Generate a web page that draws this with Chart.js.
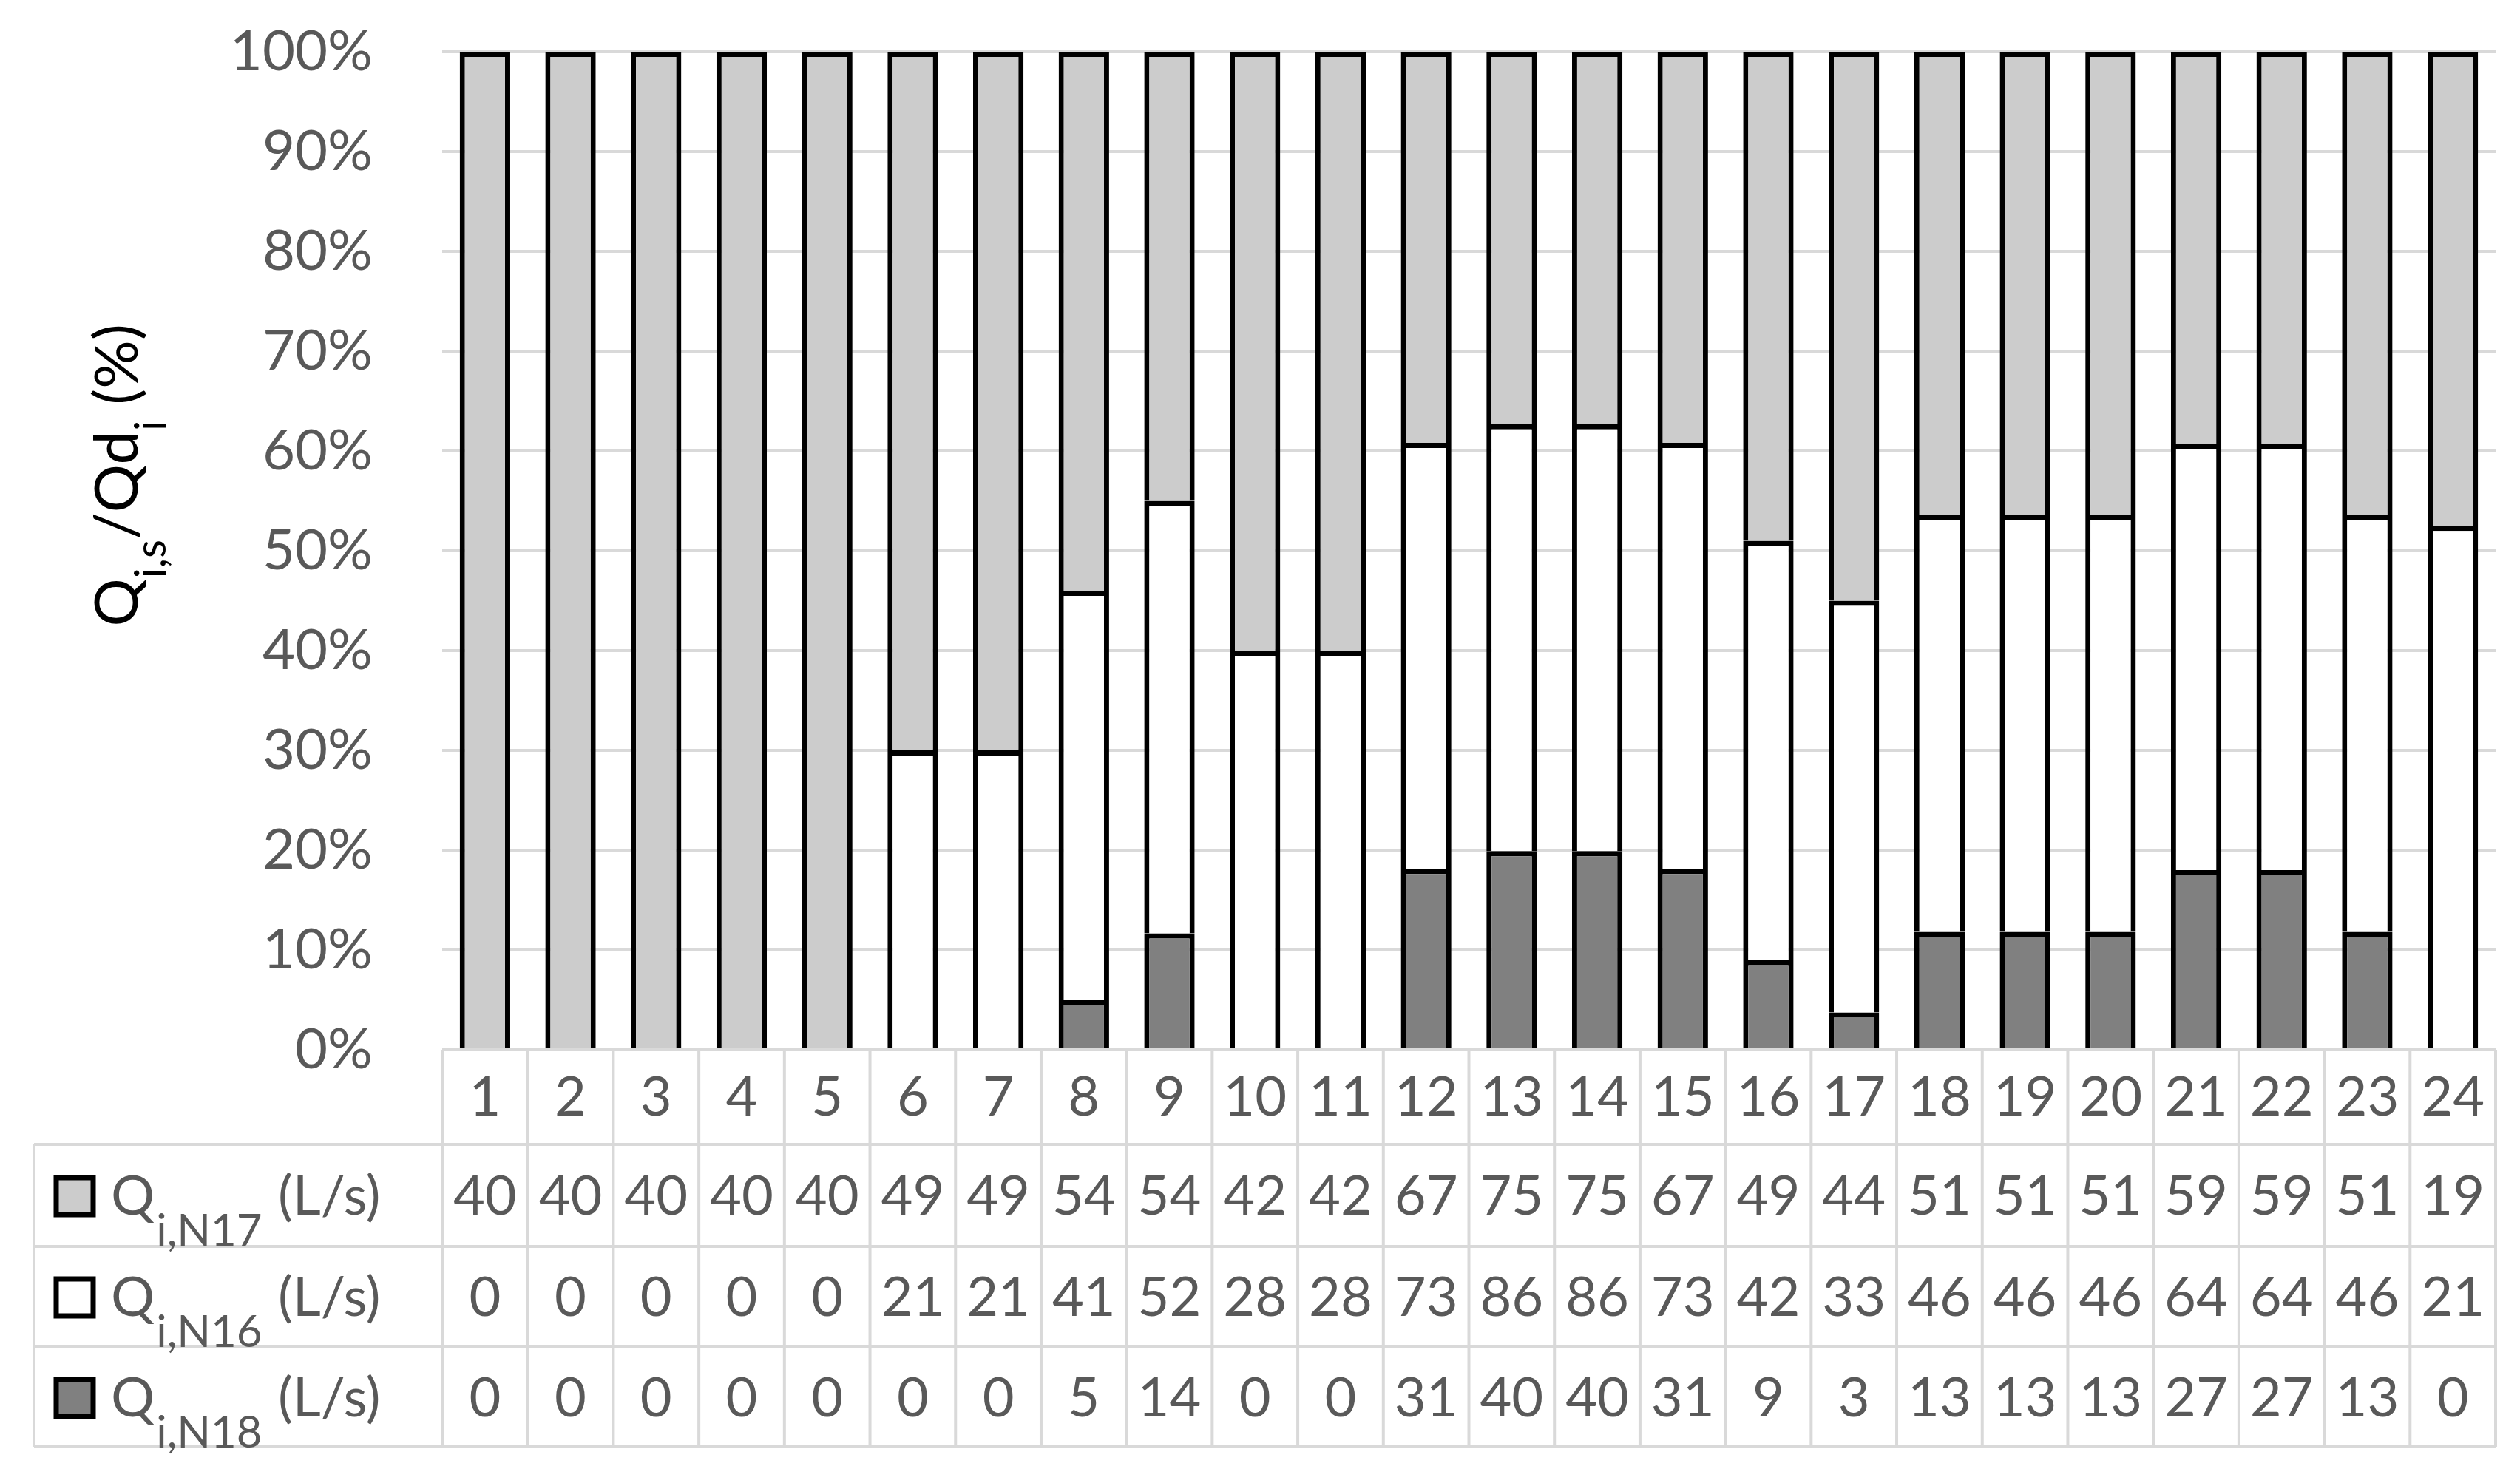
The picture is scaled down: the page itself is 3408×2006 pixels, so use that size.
<!DOCTYPE html>
<html>
<head>
<meta charset="utf-8">
<script src="https://cdn.jsdelivr.net/npm/chart.js@4.4.0/dist/chart.umd.min.js"></script>
<style>
  html, body { margin: 0; padding: 0; background: #fff; }
</style>
</head>
<body>
<canvas id="chart" width="3408" height="2006"></canvas>
<script>
// hours of the day (categories)
var hours = ['1','2','3','4','5','6','7','8','9','10','11','12','13','14','15','16','17','18','19','20','21','22','23','24'];

// flows per source node, L/s
var qN17 = [40,40,40,40,40,49,49,54,54,42,42,67,75,75,67,49,44,51,51,51,59,59,51,19];
var qN16 = [0,0,0,0,0,21,21,41,52,28,28,73,86,86,73,42,33,46,46,46,64,64,46,21];
var qN18 = [0,0,0,0,0,0,0,5,14,0,0,31,40,40,31,9,3,13,13,13,27,27,13,0];

var yTicks = [0,10,20,30,40,50,60,70,80,90,100];

var FONT = 'Lato';
var GREY_TXT = '#595959';
var LINE = '#d9d9d9';

// share of each source in the hourly demand (%)
function share(part) {
  return part.map(function(v, i) {
    var total = qN17[i] + qN16[i] + qN18[i];
    return total ? v / total * 100 : 0;
  });
}

var tableRows = [
  { node: 'N17', values: qN17, color: '#cccccc' },
  { node: 'N16', values: qN16, color: '#ffffff' },
  { node: 'N18', values: qN18, color: '#808080' }
];

var rowEdges = [1548, 1686, 1822, 1957];

var tablePlugin = {
  id: 'dataTable',
  afterDraw: function(chart) {
    var ctx = chart.ctx;
    var x = chart.scales.x;
    var top = chart.chartArea.bottom;
    var left = x.left, right = x.right;
    var colW = (right - left) / hours.length;
    var tableLeft = 46;
    var bottom = rowEdges[rowEdges.length - 1];

    ctx.save();
    ctx.strokeStyle = LINE;
    ctx.lineWidth = 4;
    ctx.beginPath();
    // horizontal lines
    ctx.moveTo(left, top); ctx.lineTo(right, top);
    rowEdges.forEach(function(y) {
      ctx.moveTo(tableLeft, y); ctx.lineTo(right, y);
    });
    // vertical lines
    for (var k = 0; k <= hours.length; k++) {
      var xx = left + k * colW;
      ctx.moveTo(xx, top); ctx.lineTo(xx, bottom);
    }
    ctx.moveTo(tableLeft, rowEdges[0]); ctx.lineTo(tableLeft, bottom);
    ctx.stroke();

    // row contents
    tableRows.forEach(function(row, r) {
      var y0 = rowEdges[r], y1 = rowEdges[r + 1];
      var base = (y0 + y1) / 2 + 26;

      // legend key
      ctx.fillStyle = row.color;
      ctx.fillRect(76, base - 50, 50, 50);
      ctx.strokeStyle = '#000';
      ctx.lineWidth = 7;
      ctx.strokeRect(76, base - 50, 50, 50);

      ctx.fillStyle = GREY_TXT;
      ctx.textAlign = 'left';
      ctx.textBaseline = 'alphabetic';
      ctx.font = '74px ' + FONT;
      ctx.fillText('Q', 150, base);
      var qw = ctx.measureText('Q').width;
      ctx.font = '60px ' + FONT;
      ctx.fillText('i,' + row.node, 150 + qw + 2, base + 42);
      ctx.font = '74px ' + FONT;
      ctx.fillText('(L/s)', 376, base);

      // values
      ctx.textAlign = 'center';
      row.values.forEach(function(v, i) {
        ctx.fillText(String(v), x.getPixelForValue(i), base);
      });
    });
    ctx.restore();
  }
};

var yTitlePlugin = {
  id: 'yTitle',
  afterDraw: function(chart) {
    var ctx = chart.ctx;
    var parts = [
      ['Q', 82, 0], ['i,s', 58, 38], ['/Qd', 82, 0], ['i', 58, 38], [' (%)', 82, 0]
    ];
    ctx.save();
    ctx.translate(186, 643);
    ctx.rotate(-Math.PI / 2);
    ctx.fillStyle = '#000';
    ctx.textBaseline = 'alphabetic';
    ctx.textAlign = 'left';
    var w = 0;
    parts.forEach(function(p) { ctx.font = p[1] + 'px ' + FONT; w += ctx.measureText(p[0]).width; });
    var cx = -w / 2;
    parts.forEach(function(p) {
      ctx.font = p[1] + 'px ' + FONT;
      ctx.fillText(p[0], cx, p[2]);
      cx += ctx.measureText(p[0]).width;
    });
    ctx.restore();
  }
};

var barStyle = {
  borderColor: '#000000',
  borderWidth: { top: 7, left: 7, right: 7, bottom: 0 },
  borderSkipped: false,
  categoryPercentage: 1,
  barPercentage: 0.59
};

var ctx = document.getElementById('chart').getContext('2d');
var chart = new Chart(ctx, {
  type: 'bar',
  data: {
    labels: hours,
    datasets: [
      Object.assign({ label: 'Qi,N18 (L/s)', data: share(qN18), backgroundColor: '#808080' }, barStyle),
      Object.assign({ label: 'Qi,N16 (L/s)', data: share(qN16), backgroundColor: '#ffffff' }, barStyle),
      Object.assign({ label: 'Qi,N17 (L/s)', data: share(qN17), backgroundColor: '#cccccc' }, barStyle)
    ]
  },
  options: {
    responsive: false,
    animation: false,
    layout: { padding: { top: 70, right: 33, left: 0, bottom: 0 } },
    plugins: { legend: { display: false }, tooltip: { enabled: false } },
    scales: {
      x: {
        stacked: true,
        grid: { display: false, drawTicks: false },
        border: { display: false },
        ticks: { color: GREY_TXT, font: { family: FONT, size: 74 }, padding: 21, maxRotation: 0 },
        afterFit: function(s) { s.height = 586; }
      },
      y: {
        stacked: true,
        min: 0,
        max: 100,
        afterBuildTicks: function(s) { s.ticks = yTicks.map(function(v) { return { value: v }; }); },
        ticks: {
          color: GREY_TXT,
          font: { family: FONT, size: 76 },
          padding: 94,
          callback: function(v) { return v + '%'; }
        },
        grid: { color: LINE, lineWidth: 4, drawTicks: false },
        border: { display: false },
        afterFit: function(s) {
          s.width = 598;
          s.paddingTop = 0;
          s.paddingBottom = 0;
        }
      }
    }
  },
  plugins: [tablePlugin, yTitlePlugin]
});
</script>
</body>
</html>
